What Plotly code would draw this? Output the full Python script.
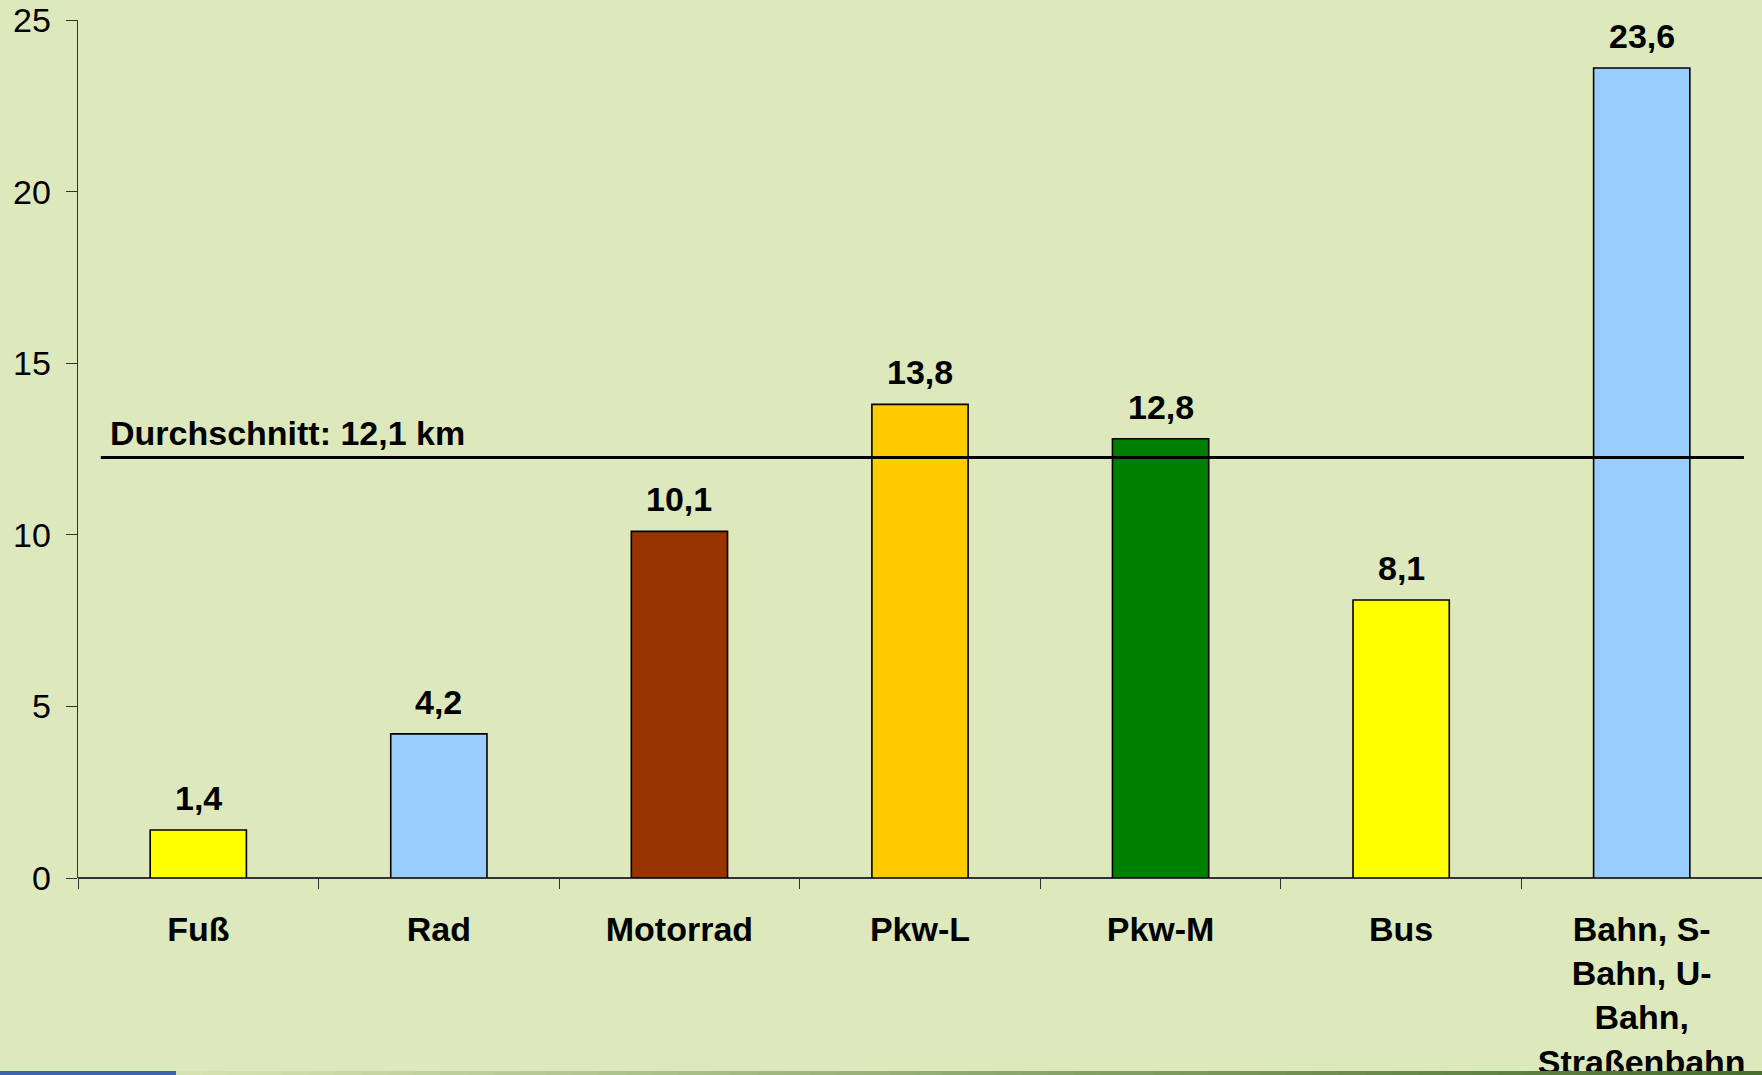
import plotly.graph_objects as go

categories = ["Fuß", "Rad", "Motorrad", "Pkw-L", "Pkw-M", "Bus", "Bahn, S-<br>Bahn, U-<br>Bahn,<br>Straßenbahn"]
values = [1.4, 4.2, 10.1, 13.8, 12.8, 8.1, 23.6]
bar_colors = ["#FFFF00", "#99CCFF", "#993300", "#FFCC00", "#008000", "#FFFF00", "#99CCFF"]
avg_value = 12.1
avg_line_y = 12.25
y_ticks = [0, 5, 10, 15, 20, 25]

BG = "#DDE8BD"
FONT = "Liberation Sans, Arial, sans-serif"

fig = go.Figure()
fig.add_trace(go.Bar(
    x=categories, y=values,
    marker=dict(color=bar_colors, line=dict(color="black", width=1.6)),
    width=0.4,
    hoverinfo="skip",
))

for c, v in zip(categories, values):
    fig.add_annotation(
        x=c, y=v, xref="x", yref="y",
        text=f"{v:.1f}".replace(".", ","),
        showarrow=False, yanchor="bottom", yshift=11,
        font=dict(family=FONT, size=34, color="black", weight="bold"),
    )

fig.add_shape(type="line", xref="x", yref="y", x0=-0.405, x1=6.425,
              y0=avg_line_y, y1=avg_line_y, line=dict(color="black", width=3))
fig.add_annotation(
    x=-0.374, y=avg_line_y, xref="x", yref="y", xanchor="left", yanchor="bottom",
    yshift=4, showarrow=False,
    text=f"Durchschnitt: {str(avg_value).replace('.', ',')} km",
    font=dict(family=FONT, size=34, color="black", weight="bold"),
)

# bottom decorative strip (slide footer)
W, H = 1762, 1075
ml, mr, mt, mb = 78, 0, 20, 197
pw, ph = W - ml - mr, H - mt - mb
def px(xp):
    return (xp - ml) / pw
def py(yp):
    return (H - mb - yp) / ph
y0s, y1s = py(1076), py(1071)
fig.add_shape(type="rect", xref="paper", yref="paper", x0=px(0), x1=px(176),
              y0=y0s, y1=y1s, line=dict(width=0), fillcolor="#3B63AE", layer="above")
n = 60
c0 = (214, 228, 180)
c1 = (72, 112, 42)
for i in range(n):
    t = i / (n - 1)
    col = tuple(int(round(c0[k] + (c1[k] - c0[k]) * t)) for k in range(3))
    xa = 176 + (W - 176) * i / n
    xb = 176 + (W - 176) * (i + 1) / n + 1
    fig.add_shape(type="rect", xref="paper", yref="paper", x0=px(xa), x1=px(xb),
                  y0=y0s, y1=y1s, line=dict(width=0),
                  fillcolor=f"rgb{col}", layer="above")

fig.update_layout(
    width=W, height=H, autosize=False,
    margin=dict(l=ml, r=mr, t=mt, b=mb),
    paper_bgcolor=BG, plot_bgcolor=BG,
    showlegend=False,
    font=dict(family=FONT, color="black"),
    xaxis=dict(
        type="category", showgrid=False, zeroline=False,
        showline=False, automargin=False,
        ticks="outside", ticklen=10, tickcolor="#333333", tickwidth=1,
        tickson="boundaries",
        tickfont=dict(family=FONT, size=34, color="black", weight="bold"),
        ticklabelstandoff=28,
        range=[-0.5, 6.5],
    ),
    yaxis=dict(
        range=[0, 25], tickvals=y_ticks, showgrid=False, zeroline=True,
        zerolinecolor="#333333", zerolinewidth=1.3, automargin=False,
        showline=True, linecolor="#333333", linewidth=1.3,
        ticks="outside", ticklen=11, tickcolor="#333333",
        tickfont=dict(family=FONT, size=34, color="black"),
        ticklabelstandoff=8,
    ),
)

fig.write_html(
    "out.html",
    config={"responsive": False, "displayModeBar": False, "staticPlot": True},
    default_width="1762px", default_height="1075px",
    post_script="document.body.style.margin='0';document.body.style.overflow='hidden';document.body.style.background='" + BG + "';",
)
